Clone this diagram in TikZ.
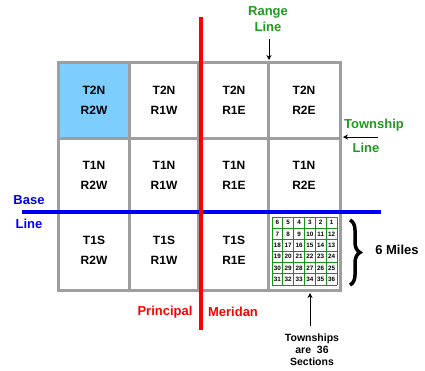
\documentclass[tikz,border=0pt]{standalone}
\usepackage{fontspec}
\setmainfont{Liberation Sans}
\usetikzlibrary{positioning}
\usetikzlibrary{arrows.meta}
\usetikzlibrary{decorations.pathreplacing}

\definecolor{cellblue}{RGB}{125,205,255}
\definecolor{gridgray}{RGB}{158,158,158}
\definecolor{labelgreen}{RGB}{30,155,30}
\definecolor{secgreen}{RGB}{20,150,20}
\definecolor{baseblue}{RGB}{0,0,245}
\definecolor{meridred}{RGB}{250,0,0}

\tikzset{
  town/.style={font=\bfseries\fontsize{12}{20}\selectfont, align=center, inner sep=0pt},
  callout/.style={font=\bfseries\fontsize{13}{16}\selectfont, align=center, inner sep=0pt},
  secnum/.style={font=\bfseries\fontsize{6.3}{7}\selectfont, inner sep=0pt},
  gridline/.style={gridgray, line width=3pt},
  pointer/.style={-{Stealth[length=5pt,width=5pt]}, line width=0.7pt}
}

\begin{document}
\begin{tikzpicture}[x=1pt,y=-1pt]
 \useasboundingbox (0,0) rectangle (425,370);
 % highlighted township
 \fill[cellblue] (58,62) rectangle (129,138);
 % township grid
 \draw[gridline] (58,62) rectangle (340,290);
 \draw[gridline] (129,62) -- (129,290);
 \draw[gridline] (198,62) -- (198,290);
 \draw[gridline] (268,62) -- (268,290);
 \draw[gridline] (58,138) -- (340,138);
 \draw[gridline] (58,212) -- (340,212);
 % sections
 \fill[white] (272,217) rectangle (337,285);
 \foreach \i in {0,...,6} {
   \draw[secgreen, line width=0.8pt] (272+\i*10.833,217) -- (272+\i*10.833,285);
   \draw[secgreen, line width=0.8pt] (272,217+\i*11.333) -- (337,217+\i*11.333);
 }
 \foreach \n [count=\k from 0] in {6,5,4,3,2,1,7,8,9,10,11,12,18,17,16,15,14,13,19,20,21,22,23,24,30,29,28,27,26,25,31,32,33,34,35,36} {
   \pgfmathtruncatemacro{\r}{int(\k/6)}
   \pgfmathtruncatemacro{\c}{mod(\k,6)}
   \node[secnum] (s\n) at (277.4+\c*10.833,222.7+\r*11.333) {\n};
 }
 % base line and meridian
 \draw[baseblue, line width=4pt] (22,212) -- (381,212);
 \draw[meridred, line width=4pt] (201,17) -- (201,330);
 % township names
 \node[town] (t2nr2w) at (94,100) {T2N\\R2W};
 \node[town] (t2nr1w) at (164,100) {T2N\\R1W};
 \node[town] (t2nr1e) at (234,100) {T2N\\R1E};
 \node[town] (t2nr2e) at (304,100) {T2N\\R2E};
 \node[town] (t1nr2w) at (94,175) {T1N\\R2W};
 \node[town] (t1nr1w) at (164,175) {T1N\\R1W};
 \node[town] (t1nr1e) at (234,175) {T1N\\R1E};
 \node[town] (t1nr2e) at (304,175) {T1N\\R2E};
 \node[town] (t1sr2w) at (94,250) {T1S\\R2W};
 \node[town] (t1sr1w) at (164,250) {T1S\\R1W};
 \node[town] (t1sr1e) at (234,250) {T1S\\R1E};
 % callouts
 \node[callout, labelgreen] (range) at (268,19) {Range\\Line};
 \coordinate (rangeend) at (269,60);
 \draw[pointer] (269,39) -- (rangeend);
 \node[callout, labelgreen] (twp) at (374,125) {Township};
 \node[callout, labelgreen] (twpline) at (366,148) {Line};
 \coordinate (twpstart) at (378,137);
 \coordinate (twpend) at (343,137);
 \draw[pointer] (twpstart) -- (twpend);
 \node[callout, baseblue] (base) at (29,200) {Base};
 \node[callout, baseblue] (baseline) at (29,224) {Line};
 \node[callout, meridred] (princ) at (165,312) {Principal};
 \node[callout, meridred] (merid) at (233,312) {Meridan};
 % six miles
 \draw[line width=3.5pt, decorate, decoration={brace, amplitude=10pt}] (350,220) -- (350,285);
 \node[callout] (miles) at (397,250) {6 Miles};
 % sections note
 \node[font=\bfseries\fontsize{10.5}{12}\selectfont, align=center, inner sep=0pt] (note) at (312,350) {Townships\\are\ \ 36\\Sections};
 \coordinate (notetop) at (310,293);
 \draw[pointer] (310,326) -- (notetop);
\end{tikzpicture}
\end{document}
